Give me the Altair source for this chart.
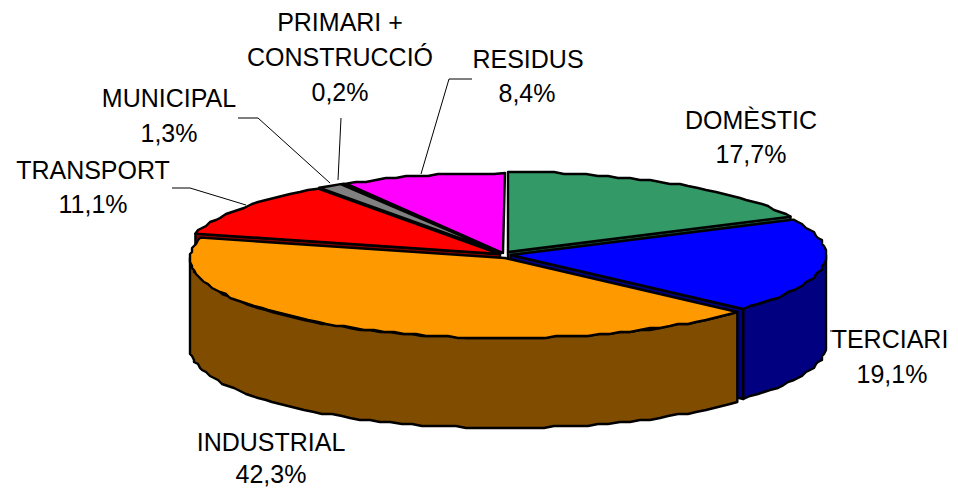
import math
import altair as alt

# ---- data ----
sectors = ["DOMÈSTIC", "TERCIARI", "INDUSTRIAL", "TRANSPORT", "MUNICIPAL", "PRIMARI + CONSTRUCCIÓ", "RESIDUS"]
shares = [17.7, 19.1, 42.3, 11.1, 1.3, 0.2, 8.4]
share_labels = ["17,7%", "19,1%", "42,3%", "11,1%", "1,3%", "0,2%", "8,4%"]

# ---- styling and layout (picture pixels) ----
top_colors = ["#339966", "#0000FF", "#FF9900", "#FF0000", "#808080", "#111111", "#FF00FF"]
side_colors = ["#1A4D33", "#000080", "#804C00", "#800000", "#404040", "#000000", "#800080"]
apex = [(508, 252), (511, 255), (505, 258), (500, 254), (501, 253), (501, 253), (503, 253)]
RX, RY, DEPTH = 315, 80, 90
STEP, GRID = 2, 2

label_lines = [
    ("PRIMARI +", 340, 23), ("CONSTRUCCIÓ", 340, 58), (share_labels[5], 340, 93),
    (sectors[6], 528, 60), (share_labels[6], 527, 94),
    (sectors[0], 751, 121), (share_labels[0], 751, 155),
    (sectors[4], 169, 99), (share_labels[4], 169, 134),
    (sectors[3], 93, 171), (share_labels[3], 93, 205),
    (sectors[1], 890, 340), (share_labels[1], 892, 375),
    (sectors[2], 271, 443), (share_labels[2], 271, 474.5),
]
leaders = {
    "RESIDUS": [(472, 79), (449, 79), (421, 174)],
    "MUNICIPAL": [(238, 118), (258, 118), (330, 183)],
    "PRIMARI": [(341, 118), (338, 180)],
    "TRANSPORT": [(172, 188), (190, 188), (246, 205)],
    "TERCIARI": [(830, 331), (835, 331)],
}


def rim(i, deg, drop=0, snap=True):
    ax, ay = apex[i]
    x = ax + RX * math.sin(math.radians(deg))
    y = ay - RY * math.cos(math.radians(deg))
    if snap:
        x, y = round(x / GRID) * GRID, round(y / GRID) * GRID
    return [x, y + drop]


def arc(i, a, b, drop=0):
    n = max(1, int(abs(b - a) / STEP))
    return [rim(i, a + (b - a) * k / n, drop, 0 < k < n) for k in range(n + 1)]


def feature(points, color):
    return {
        "type": "Feature",
        "geometry": {"type": "Polygon", "coordinates": [points + [points[0]]]},
        "properties": {"color": color},
    }


spans, acc = [], 0.0
for s in shares:
    spans.append((acc * 3.6, (acc + s) * 3.6))
    acc += s


def apex_pt(i, drop=0):
    return [apex[i][0], apex[i][1] + drop]


tops = [feature([apex_pt(i)] + arc(i, *spans[i]), top_colors[i]) for i in range(len(shares))]


def outer_side(i, a, b):
    up = arc(i, a, b)
    down = arc(i, a, b, DEPTH)
    return feature(up + down[::-1], side_colors[i])


def cut_face(i, deg):
    r = rim(i, deg, 0, False)
    return feature([apex_pt(i), r, [r[0], r[1] + DEPTH], apex_pt(i, DEPTH)], side_colors[i])


features = [
    tops[6], tops[5], tops[4],
    cut_face(3, spans[3][0]), tops[3],
    cut_face(0, spans[0][1]), tops[0],
    cut_face(1, spans[1][1]), outer_side(1, 90, spans[1][1]), tops[1],
    outer_side(2, spans[2][0], 270), tops[2],
]

W, H = 942, 480
x_scale = alt.Scale(domain=[8, 8 + W], range=[0, W], nice=False, zero=False)
y_scale = alt.Scale(domain=[8, 8 + H], range=[0, H], nice=False, zero=False)

pie = (
    alt.Chart(alt.Data(values=features))
    .mark_geoshape(stroke="black", strokeWidth=2.4, strokeJoin="round")
    .encode(color=alt.Color("properties.color:N", scale=None, legend=None))
    .project(type="identity", scale=1, translate=[-8, -8])
)

leader_rows = [
    {"name": k, "seq": n, "px": p[0], "py": p[1]} for k, v in leaders.items() for n, p in enumerate(v)
]
leader_layer = (
    alt.Chart(alt.Data(values=leader_rows))
    .mark_line(color="black", strokeWidth=1)
    .encode(
        x=alt.X("px:Q", scale=x_scale, axis=None),
        y=alt.Y("py:Q", scale=y_scale, axis=None),
        detail="name:N",
        order="seq:Q",
    )
)

text_rows = [{"t": t, "px": x, "py": y} for t, x, y in label_lines]
text_layer = (
    alt.Chart(alt.Data(values=text_rows))
    .mark_text(font="Liberation Sans", fontSize=25, color="black", align="center", baseline="middle")
    .encode(
        x=alt.X("px:Q", scale=x_scale, axis=None),
        y=alt.Y("py:Q", scale=y_scale, axis=None),
        text="t:N",
    )
)

chart = (
    alt.layer(pie, leader_layer, text_layer)
    .properties(width=W, height=H, padding=0, autosize=alt.AutoSizeParams(type="none"), background="white")
    .configure_view(stroke=None)
)

chart.save("out.html", embed_options={"renderer": "svg", "actions": False})
